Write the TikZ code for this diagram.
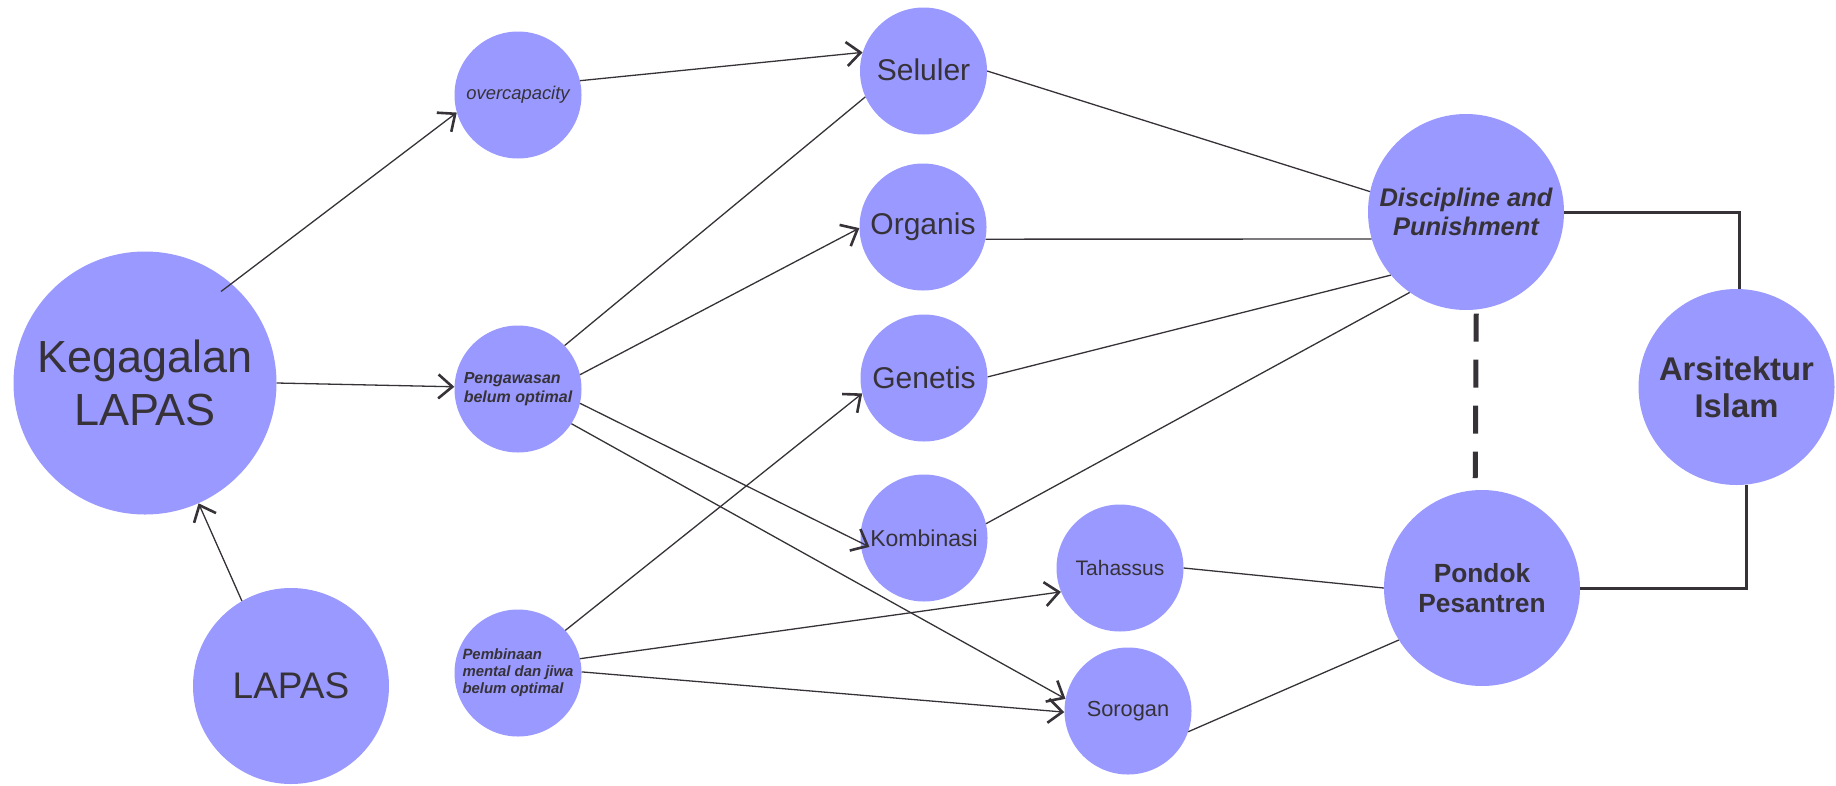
\documentclass[tikz,border=0pt]{standalone}
\usepackage{fontspec}
\setmainfont{Liberation Sans}
\usetikzlibrary{arrows.meta}
\definecolor{nodefill}{HTML}{9999FF}
\definecolor{ink}{HTML}{363238}
\begin{document}
\begin{tikzpicture}[x=1pt,y=-1pt,
  bub/.style={circle, fill=nodefill, inner sep=0pt, text=ink, align=center},
  bigbub/.style={bub, minimum size=263pt},
  medbub/.style={bub, minimum size=196pt},
  smlbub/.style={bub, minimum size=127pt},
  link/.style={draw=ink, line width=1.3pt},
  arr/.style={link, -{Straight Barb[length=14pt,width=24pt,line width=2.6pt]}},
  frameline/.style={draw=ink, line width=3pt},
  dashline/.style={draw=ink, line width=5pt, dash pattern=on 28pt off 18pt},
]
\useasboundingbox (0,0) rectangle (1836,785);

% nodes
\node[bigbub, font=\fontsize{45}{52.5}\selectfont] (keg) at (145,383) {Kegagalan\\LAPAS};
\node[medbub, font=\fontsize{37}{42}\selectfont] (lapas) at (291,686) {LAPAS};
\node[smlbub, font=\fontsize{18.4}{21}\selectfont\itshape] (over) at (518,95) {overcapacity};
\node[smlbub, align=left, font=\fontsize{16}{18.5}\selectfont\bfseries\itshape] (peng) at (518,389) {Pengawasan\\belum optimal};
\node[smlbub, align=left, font=\fontsize{14.9}{17}\selectfont\bfseries\itshape] (pemb) at (518,673) {Pembinaan\\mental dan jiwa\\belum optimal};
\node[smlbub, font=\fontsize{30}{34}\selectfont] (sel) at (923.5,71) {\raisebox{3pt}{Seluler}};
\node[smlbub, font=\fontsize{30}{34}\selectfont] (org) at (923,227) {Organis};
\node[smlbub, font=\fontsize{30}{34}\selectfont] (gen) at (924,378) {Genetis};
\node[smlbub, font=\fontsize{23}{26}\selectfont] (kom) at (924,538) {Kombinasi};
\node[smlbub, font=\fontsize{21}{24}\selectfont] (tah) at (1120,568) {Tahassus};
\node[smlbub, font=\fontsize{21.8}{25}\selectfont] (sor) at (1128,711) {Sorogan};
\node[medbub, font=\fontsize{25.5}{29.5}\selectfont\bfseries\itshape] (disc) at (1466,212) {Discipline and\\Punishment};
\node[medbub, font=\fontsize{26.3}{30}\selectfont\bfseries] (pond) at (1482,588) {Pondok\\Pesantren};
\node[medbub, font=\fontsize{32.8}{37}\selectfont\bfseries] (arsi) at (1736.5,387) {Arsitektur\\Islam};

% arrows
\draw[arr, shorten <=-13pt] (keg.49) -- (over.196);
\draw[arr] (keg.0) -- (peng.178);
\draw[arr] (lapas.120) -- (keg.-66);
\draw[arr] (over.13) -- (sel.163);
\draw[link] (peng.43) -- (sel.204);
\draw[arr] (peng.13) -- (org.181);
\draw[arr, shorten >=-10pt] (peng.-13) -- (kom.184);
\draw[arr] (peng.-33) -- (sor.169);
\draw[arr] (pemb.42) -- (gen.194);
\draw[arr] (pemb.13) -- (tah.202);
\draw[arr] (pemb.1) -- (sor.181);

% plain connectors
\draw[link] (sel.0) -- (disc.168);
\draw[link] (org.-11) -- (disc.196);
\draw[link] (gen.1) -- (disc.220);
\draw[link] (kom.13) -- (disc.235);
\draw[link] (tah.0) -- (pond.180);
\draw[link] (sor.-19) -- (pond.212);

% frame connectors
\draw[frameline] (disc.east) -| (arsi.88);
\draw[frameline] (arsi.-84) |- (pond.east);
\draw[dashline, shorten <=4pt, shorten >=12pt] (disc.-84) -- (pond.94);
\end{tikzpicture}
\end{document}
